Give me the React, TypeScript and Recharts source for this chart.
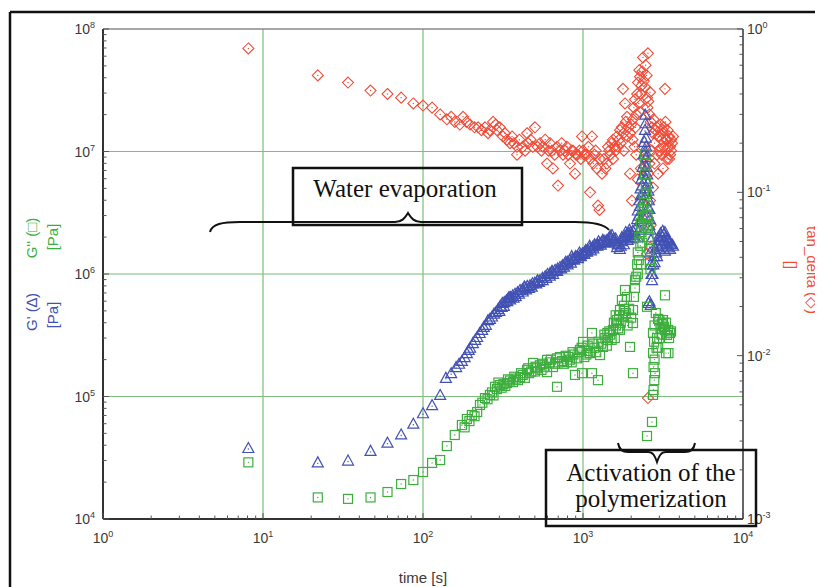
import React from 'react';
import { ScatterChart, Scatter, XAxis, YAxis, ReferenceLine } from 'recharts';

// ---------- axis ticks ----------
const xMajorTicks = [1, 10, 100, 1000, 10000];
const gMajorTicks = [1e4, 1e5, 1e6, 1e7, 1e8];
const tanMajorTicks = [0.001, 0.01, 0.1, 1];
const xGridValues = [10, 100, 1000];
const gGridValues = [1e5, 1e6, 1e7];

// ---------- data: [time s, value] ----------
const gPrimeRows: number[][] = [
  [8.1,3.8e4],[22,2.9e4],[34,3.0e4],[47,3.6e4],[60,4.2e4],[73,4.9e4],[87,6.0e4],[100,7.3e4],[114,8.5e4],[128,1.03e5],
  [139,1.42e5],[150,1.55e5],[161,1.74e5],[168,1.85e5],[175,1.95e5],[182,2.1e5],[188,2.26e5],[193,2.4e5],[197,2.5e5],[205,2.73e5],
  [212,2.9e5],[218,3.06e5],[226,3.3e5],[234,3.5e5],[240,3.7e5],[247,3.85e5],[255,4.2e5],[262,4.3e5],[270,4.5e5],[278,4.75e5],
  [286,4.9e5],[295,5.2e5],[304,5.5e5],[313,5.8e5],[322,5.9e5],[332,6.1e5],[342,6.35e5],[353,6.5e5],[364,6.7e5],[376,6.9e5],
  [390,7.1e5],[404,7.4e5],[418,7.5e5],[433,7.8e5],[449,8.0e5],[466,8.1e5],[483,8.4e5],[500,8.5e5],[519,8.8e5],[538,8.9e5],
  [558,9.3e5],[580,9.6e5],[600,1.0e6],[622,1.02e6],[645,1.05e6],[670,1.08e6],[694,1.11e6],[718,1.14e6],[744,1.18e6],[770,1.22e6],
  [799,1.26e6],[829,1.3e6],[858,1.33e6],[890,1.36e6],[922,1.4e6],[957,1.43e6],[992,1.48e6],[1030,1.53e6],[1068,1.58e6],[1107,1.63e6],
  [1148,1.67e6],[1190,1.71e6],[1233,1.75e6],[1277,1.79e6],[1322,1.83e6],[1370,1.87e6],[1413,1.9e6],[1460,1.98e6],[1518,2.08e6],[1560,1.95e6],
  [1600,1.8e6],[1632,1.66e6],[1680,1.75e6],[1730,1.85e6],[1780,1.95e6],[1830,2.05e6],[1880,2.1e6],[1930,2.15e6],[1980,2.2e6],[2030,2.1e6],
  [2080,2.0e6],[300,5.0e5],[320,5.5e5],[350,6.2e5],[380,6.6e5],[420,7.2e5],[460,7.7e5],[510,8.4e5],[560,8.9e5],[620,9.7e5],
  [690,1.06e6],[760,1.15e6],[840,1.24e6],[930,1.35e6],[1020,1.46e6],[1120,1.56e6],[1230,1.7e6],[1350,1.8e6],[1450,1.85e6],[1550,1.85e6],
  [1700,1.6e6],[1800,1.75e6],[1900,1.9e6],[2000,1.95e6],[1250,1.85e6],[1100,1.7e6],[950,1.5e6],[850,1.4e6],[1650,1.75e6],[1750,2.0e6],
  [1850,2.2e6],[1950,2.3e6],[2050,2.25e6],
  [310,5.4e5],[336,6.0e5],[368,6.4e5],[398,6.9e5],[440,7.5e5],[478,7.9e5],[530,8.6e5],[590,9.3e5],[650,1.0e6],[730,1.11e6],
  [800,1.2e6],[880,1.31e6],[970,1.4e6],[1060,1.52e6],[1160,1.62e6],[1290,1.74e6],[1400,1.83e6],[1500,1.95e6],[345,6.5e5],[430,7.9e5],
  [520,8.9e5],[640,1.06e6],[780,1.26e6],[900,1.4e6],[1040,1.57e6],[1180,1.75e6],[1330,1.9e6],[1480,2.05e6],[1600,1.95e6],[1720,1.7e6],
  [2120,2.0e6],[2150,2.4e6],[2180,2.8e6],[2200,3.3e6],[2230,3.0e6],[2250,4.0e6],[2270,3.6e6],[2290,5.0e6],[2300,4.4e6],[2320,6.0e6],
  [2340,5.3e6],[2360,7.5e6],[2380,6.5e6],[2400,9.5e6],[2410,8.0e6],[2420,1.2e7],[2440,1.5e7],[2450,2.0e7],[2460,1.7e7],[2470,1.3e7],
  [2480,1.1e7],[2490,9.0e6],[2500,7.5e6],[2520,6.5e6],[2540,5.5e6],[2560,4.8e6],[2580,4.0e6],[2600,3.4e6],[2620,2.8e6],[2640,2.3e6],
  [2660,1.9e6],[2350,3.0e6],[2400,4.0e6],[2450,5.0e6],[2500,4.5e6],[2550,3.5e6],[2300,2.7e6],[2250,2.3e6],[2600,2.5e6],[2450,1.0e7],
  [2430,7.0e6],[2480,6.0e6],[2370,4.5e6],[2520,3.0e6],[2200,2.0e6],
  [2620,1.5e6],[2650,1.2e6],[2680,1.0e6],[2700,8.9e5],[2560,5.8e5],[2650,5.6e5],[2600,6.0e5],[2720,1.0e6],[2750,1.2e6],[2780,1.4e6],
  [2800,1.25e6],[2830,1.6e6],[2860,1.5e6],[2900,1.8e6],[2930,1.7e6],[2960,2.0e6],[3000,1.9e6],[3050,2.15e6],[3100,2.05e6],[3150,2.25e6],
  [3200,2.1e6],[3250,2.2e6],[3300,2.0e6],[3350,1.95e6],[3400,1.9e6],[3450,1.85e6],[3500,1.8e6],[3550,1.75e6],[3600,1.75e6],[3650,1.7e6],
  [3000,1.6e6],[3100,1.75e6],[3200,1.85e6],[3300,1.7e6],[3400,1.65e6],[3500,1.6e6],[2900,1.4e6],[3250,1.55e6],
];

const gDoublePrimeRows: number[][] = [
  [8.1,2.9e4],[22,1.5e4],[34,1.46e4],[47,1.5e4],[60,1.66e4],[73,1.93e4],[87,2.08e4],[100,2.42e4],[114,2.87e4],[128,3.03e4],
  [141,3.94e4],[158,4.85e4],[175,5.85e4],[182,5.6e4],[188,6.55e4],[195,6.3e4],[202,7.06e4],[210,6.9e4],[218,7.47e4],[227,8.53e4],
  [235,8.9e4],[244,9.7e4],[253,9.5e4],[262,1.03e5],[270,1.08e5],[276,1.02e5],[282,1.2e5],[290,1.15e5],[302,1.24e5],[310,1.18e5],
  [318,1.26e5],[327,1.22e5],[335,1.29e5],[350,1.35e5],[365,1.31e5],[380,1.4e5],[392,1.36e5],[404,1.44e5],[420,1.5e5],[433,1.42e5],
  [447,1.65e5],[460,1.55e5],[475,1.6e5],[487,1.88e5],[500,1.6e5],[515,1.7e5],[538,1.8e5],[550,1.65e5],[575,1.75e5],[596,1.58e5],
  [596,1.99e5],[620,1.9e5],[649,1.74e5],[670,1.85e5],[688,1.2e5],[700,1.9e5],[718,2.1e5],[740,1.95e5],[760,1.85e5],[794,1.91e5],
  [810,2.1e5],[830,2.0e5],[850,1.9e5],[870,2.2e5],[891,1.5e5],[920,2.05e5],[940,2.3e5],[957,2.4e5],[986,1.55e5],[1000,2.79e5],
  [1020,2.1e5],[1050,2.2e5],[1080,2.35e5],[1107,2.26e5],[1137,1.55e5],[1137,3.3e5],[1160,2.7e5],[1180,2.5e5],[1210,2.3e5],[1241,1.36e5],
  [1277,2.18e5],[1300,2.7e5],[1334,2.54e5],[1360,3.2e5],[1380,3.0e5],[1410,2.6e5],[1433,2.89e5],[1460,3.4e5],[1480,3.2e5],[1510,2.9e5],
  [1540,3.49e5],[1560,4.0e5],[1580,3.0e5],[1610,3.8e5],[1632,4.21e5],[1660,3.6e5],[1680,4.6e5],[1703,5.08e5],[1720,4.0e5],[1750,6.14e5],
  [1780,4.5e5],[1800,5.5e5],[1830,7.4e5],[1850,4.8e5],[1880,6.5e5],[1900,3.8e5],[1940,5.2e5],[1967,2.54e5],[2000,4.4e5],[2054,3.98e5],
  [2054,5.08e5],[2054,1.55e5],[2080,6.5e5],[2113,7.69e5],[2113,8.9e5],
  [296,1.3e5],[340,1.38e5],[372,1.45e5],[410,1.55e5],[455,1.7e5],[505,1.75e5],[560,1.85e5],[630,2.0e5],[690,2.05e5],[780,2.15e5],
  [860,2.3e5],[980,2.5e5],[1070,2.6e5],[1250,2.8e5],[1420,3.3e5],[1600,4.6e5],[1700,3.5e5],[1820,5.0e5],
  [2150,9.5e5],[2180,1.2e6],[2200,1.5e6],[2230,1.3e6],[2250,2.0e6],[2280,1.7e6],[2300,2.6e6],[2320,2.2e6],[2350,3.4e6],[2370,2.9e6],
  [2400,4.5e6],[2420,3.8e6],[2440,6.5e6],[2450,9.5e6],[2460,8.0e6],[2470,5.5e6],[2490,4.5e6],[2510,3.6e6],[2530,3.0e6],[2550,2.4e6],
  [2570,2.0e6],[2600,1.6e6],[2620,1.3e6],[2640,1.1e6],[2200,1.0e6],[2400,2.5e6],[2500,2.5e6],[2350,1.8e6],[2450,3.0e6],[2300,1.2e6],
  [2512,5.4e5],[2512,4.76e4],[2700,6.2e4],[2740,1.03e5],[2760,1.13e5],[2790,1.36e5],[2760,1.74e5],[2740,2.26e5],[2738,3.3e5],[2780,2.8e5],
  [2800,3.8e5],[2850,4.8e5],[2800,2.0e5],[2820,1.55e5],[2880,2.5e5],[2900,3.0e5],[2950,4.3e5],[3000,4.2e5],[3050,3.6e5],[3100,3.9e5],
  [3150,4.0e5],[3162,4.21e5],[3200,3.7e5],[3254,3.49e5],[3254,6.7e5],[3300,4.0e5],[3350,3.18e5],[3400,3.5e5],[3450,3.0e5],[3500,3.3e5],
  [3550,3.4e5],[3300,2.26e5],[3420,2.26e5],[3100,3.2e5],[2950,2.5e5],[3000,3.0e5],
];

const tanDeltaRows: number[][] = [
  [8.1,0.76],[22,0.52],[34,0.47],[47,0.42],[60,0.40],[73,0.38],[87,0.35],[100,0.34],[114,0.33],[128,0.30],
  [141,0.28],[150,0.29],[158,0.27],[170,0.26],[178,0.29],[187,0.27],[197,0.26],[210,0.25],[221,0.25],[232,0.24],
  [244,0.25],[255,0.23],[262,0.24],[274,0.27],[285,0.26],[290,0.24],[302,0.25],[316,0.22],[325,0.23],[335,0.21],
  [350,0.20],[360,0.22],[370,0.20],[387,0.19],[387,0.17],[400,0.21],[420,0.19],[435,0.18],[447,0.23],[453,0.20],
  [470,0.21],[485,0.19],[501,0.25],[520,0.19],[538,0.20],[550,0.18],[562,0.19],[580,0.21],[596,0.15],[610,0.18],
  [622,0.20],[640,0.18],[649,0.14],[665,0.17],[688,0.19],[698,0.11],[720,0.18],[735,0.20],[750,0.17],[770,0.18],
  [794,0.19],[810,0.17],[829,0.15],[850,0.18],[866,0.18],[891,0.13],[905,0.17],[920,0.17],[950,0.18],[970,0.16],
  [986,0.22],[1000,0.18],[1020,0.17],[1050,0.17],[1080,0.19],[1107,0.16],[1107,0.10],[1137,0.22],[1160,0.15],[1180,0.17],
  [1200,0.18],[1223,0.14],[1241,0.083],[1268,0.078],[1280,0.16],[1315,0.13],[1350,0.16],[1380,0.14],[1413,0.15],[1433,0.19],
  [1460,0.18],[1480,0.17],[1510,0.20],[1540,0.16],[1540,0.21],[1570,0.19],[1600,0.18],[1630,0.22],[1655,0.19],[1680,0.21],
  [1703,0.24],[1720,0.20],[1750,0.25],[1778,0.43],[1790,0.23],[1800,0.18],[1830,0.35],[1850,0.27],[1884,0.29],[1900,0.22],
  [1930,0.25],[1967,0.23],[1967,0.13],[2000,0.26],[2024,0.089],[2040,0.21],[2054,0.28],[2080,0.33],[2113,0.37],[2130,0.25],
  [2150,0.30],[2180,0.40],[2208,0.47],[2230,0.35],[2250,0.56],[2270,0.51],[2270,0.31],[2300,0.40],[2320,0.45],[2350,0.55],
  [2371,0.67],[2400,0.48],[2441,0.44],[2460,0.60],[2500,0.52],[2547,0.71],[2512,0.38],[2530,0.33],[2560,0.36],[2600,0.30],
  [2624,0.41],[2650,0.27],[2700,0.25],[2738,0.23],[2760,0.28],[2800,0.20],[2850,0.24],[2901,0.25],[2950,0.22],[3000,0.22],
  [3050,0.26],[3100,0.21],[3150,0.24],[3162,0.23],[3200,0.25],[3254,0.43],[3280,0.27],[3300,0.21],[3350,0.21],[3380,0.24],
  [3400,0.19],[3450,0.22],[3499,0.19],[3550,0.21],[3600,0.20],[3650,0.22],[3162,0.14],[3350,0.16],[3500,0.17],[2901,0.17],
  [2950,0.13],[2738,0.107],[2624,0.089],[2547,0.070],[2512,0.042],[2624,0.046],[2650,0.063],[2547,0.0055],[2400,0.16],[2300,0.14],
  [2200,0.12],[2150,0.17],[2100,0.19],[2350,0.19],[2450,0.17],[2550,0.13],[2600,0.15],[2700,0.18],[2800,0.15],[3000,0.18],
  [3100,0.17],[3200,0.19],[3300,0.18],[3450,0.16],[3550,0.18],
];

const toPoints = (rows: number[][]) => rows.map(([t, v]) => ({ t, v }));
const gPrimeData = toPoints(gPrimeRows);
const gDoublePrimeData = toPoints(gDoublePrimeRows);
const tanDeltaData = toPoints(tanDeltaRows);

// ---------- style ----------
const BLUE = '#4252b3';
const GREEN = '#3dae3d';
const RED = '#f04c38';
const GRID = '#7dbd7d';
const TXT = '#3a3a3a';
const SANS = "'Liberation Sans', Arial, Helvetica, sans-serif";
const SERIF = "'Liberation Serif', 'Times New Roman', Times, serif";

const withMinor = (majors: number[]) => {
  const out: number[] = [];
  majors.forEach((m, i) => {
    out.push(m);
    if (i < majors.length - 1) for (let k = 2; k <= 9; k++) out.push(m * k);
  });
  return out;
};
const isMajor = (v: number, majors: number[]) => majors.some((m) => Math.abs(v / m - 1) < 1e-6);

const Pow = ({ exp }: { exp: number }) => (
  <>
    10<tspan dy={-6} fontSize={9}>{exp}</tspan>
  </>
);

const makeTick = (side: 'bottom' | 'left' | 'right', majors: number[]) => (props: any) => {
  const { x, y, payload } = props;
  const v = payload.value;
  const major = isMajor(v, majors);
  const exp = Math.round(Math.log10(v));
  const len = major ? 6 : 3.5;
  if (side === 'bottom') {
    return (
      <g>
        <line x1={x} x2={x} y1={y} y2={y - len} stroke="#555" strokeWidth={1} />
        {major && (
          <text x={x} y={y + 24} textAnchor="middle" fontFamily={SANS} fontSize={14} fill={TXT}>
            <Pow exp={exp} />
          </text>
        )}
      </g>
    );
  }
  if (side === 'left') {
    return (
      <g>
        <line x1={x} x2={x + len} y1={y} y2={y} stroke="#555" strokeWidth={1} />
        {major && (
          <text x={x - 8} y={y + 5} textAnchor="end" fontFamily={SANS} fontSize={14} fill={TXT}>
            <Pow exp={exp} />
          </text>
        )}
      </g>
    );
  }
  return (
    <g>
      <line x1={x} x2={x - len} y1={y} y2={y} stroke="#555" strokeWidth={1} />
      {major && (
        <text x={x + 4} y={y + 5} textAnchor="start" fontFamily={SANS} fontSize={14} fill={TXT}>
          <Pow exp={exp} />
        </text>
      )}
    </g>
  );
};

const Tri = (p: any) => {
  const { cx, cy } = p;
  if (cx == null || cy == null) return null;
  return (
    <g>
      <polygon points={`${cx},${cy - 5.5} ${cx - 5.5},${cy + 4.5} ${cx + 5.5},${cy + 4.5}`} fill="none" stroke={BLUE} strokeWidth={1.2} />
      <circle cx={cx} cy={cy + 1} r={0.7} fill={BLUE} />
    </g>
  );
};
const Sq = (p: any) => {
  const { cx, cy } = p;
  if (cx == null || cy == null) return null;
  return (
    <g>
      <rect x={cx - 4.5} y={cy - 4.5} width={9} height={9} fill="none" stroke={GREEN} strokeWidth={1.2} />
      <circle cx={cx} cy={cy} r={0.7} fill={GREEN} />
    </g>
  );
};
const Dia = (p: any) => {
  const { cx, cy } = p;
  if (cx == null || cy == null) return null;
  return (
    <g>
      <polygon points={`${cx},${cy - 5.5} ${cx + 5.5},${cy} ${cx},${cy + 5.5} ${cx - 5.5},${cy}`} fill="none" stroke={RED} strokeWidth={1.1} />
      <circle cx={cx} cy={cy} r={0.7} fill={RED} />
    </g>
  );
};

const W = 815;
const H = 579;

export default function App() {
  return (
    <div style={{ position: 'relative', width: W, height: H }}>
      <ScatterChart width={W} height={H} margin={{ top: 21, right: 0, bottom: 0, left: 0 }}>
        <XAxis
          type="number"
          dataKey="t"
          scale="log"
          domain={[1, 10000]}
          allowDataOverflow
          ticks={withMinor(xMajorTicks)}
          interval={0}
          tickSize={0}
          tickMargin={0}
          tickLine={false}
          tick={makeTick('bottom', xMajorTicks)}
          axisLine={{ stroke: '#333', strokeWidth: 2 }}
          height={68}
        />
        <YAxis
          yAxisId="left"
          type="number"
          dataKey="v"
          scale="log"
          domain={[1e4, 1e8]}
          allowDataOverflow
          ticks={withMinor(gMajorTicks)}
          interval={0}
          tickSize={0}
          tickMargin={0}
          tickLine={false}
          tick={makeTick('left', gMajorTicks)}
          axisLine={{ stroke: '#333', strokeWidth: 2 }}
          width={95}
        />
        <YAxis
          yAxisId="right"
          orientation="right"
          type="number"
          dataKey="v"
          scale="log"
          domain={[0.001, 1]}
          allowDataOverflow
          ticks={withMinor(tanMajorTicks)}
          interval={0}
          tickSize={0}
          tickMargin={0}
          tickLine={false}
          tick={makeTick('right', tanMajorTicks)}
          axisLine={{ stroke: '#333', strokeWidth: 1.5 }}
          width={80}
        />
        {xGridValues.map((v) => (
          <ReferenceLine key={'gx' + v} yAxisId="left" x={v} stroke={GRID} strokeWidth={1.2} />
        ))}
        {gGridValues.map((v) => (
          <ReferenceLine key={'gy' + v} yAxisId="left" y={v} stroke={GRID} strokeWidth={1.2} />
        ))}
        <ReferenceLine yAxisId="left" y={1e8} stroke="#8a8a8a" strokeWidth={1.5} />
        <Scatter yAxisId="right" data={tanDeltaData} shape={Dia} isAnimationActive={false} />
        <Scatter yAxisId="left" data={gPrimeData} shape={Tri} isAnimationActive={false} />
        <Scatter yAxisId="left" data={gDoublePrimeData} shape={Sq} isAnimationActive={false} />
      </ScatterChart>

      <svg width={W} height={H} style={{ position: 'absolute', left: 0, top: 0, pointerEvents: 'none' }}>
        {/* outer frame */}
        <line x1={2} y1={4} x2={2} y2={H} stroke="#111" strokeWidth={2.5} />
        <line x1={2} y1={4} x2={W} y2={4} stroke="#111" strokeWidth={2.5} />

        {/* axis titles */}
        <g fontFamily={SANS} fontSize={15}>
          <text x={23} y={230} transform="rotate(-90 23 230)" textAnchor="middle" dominantBaseline="central" fill={GREEN}>G'' (□)</text>
          <text x={44} y={229} transform="rotate(-90 44 229)" textAnchor="middle" dominantBaseline="central" fill={GREEN}>[Pa]</text>
          <text x={23} y={304} transform="rotate(-90 23 304)" textAnchor="middle" dominantBaseline="central" fill={BLUE}>G' (∆)</text>
          <text x={44} y={307} transform="rotate(-90 44 307)" textAnchor="middle" dominantBaseline="central" fill={BLUE}>[Pa]</text>
          <text x={804} y={262} transform="rotate(90 804 262)" textAnchor="middle" dominantBaseline="central" fill={RED}>tan_delta (◇)</text>
          <text x={783} y={257} transform="rotate(90 783 257)" textAnchor="middle" dominantBaseline="central" fill={RED}>[]</text>
          <text x={415} y={569} textAnchor="middle" dominantBaseline="central" fill={TXT}>time [s]</text>
        </g>

        {/* Water evaporation annotation */}
        <rect x={285} y={160} width={229} height={57} fill="none" stroke="#111" strokeWidth={2.5} />
        <text x={397} y={189} textAnchor="middle" fontFamily={SERIF} fontSize={25} fill="#111">Water evaporation</text>
        <path
          d="M202,224 C204,216 214,214 232,214 L387,214 C394,214 397,210 400,205 C403,210 406,214 413,214 L567,214 C587,214 597,217 601,222"
          fill="none"
          stroke="#111"
          strokeWidth={2}
        />

        {/* Activation annotation */}
        <rect x={538} y={442} width={210} height={76} fill="none" stroke="#111" strokeWidth={2.5} />
        <text x={643} y={473} textAnchor="middle" fontFamily={SERIF} fontSize={25} fill="#111">Activation of the</text>
        <text x={643} y={499} textAnchor="middle" fontFamily={SERIF} fontSize={25} fill="#111">polymerization</text>
        <path
          d="M610,435 C611,441 614,444 620,444 L640,444 C645,444 647,448 649,454 C651,448 653,444 658,444 L677,444 C683,444 686,441 687,435"
          fill="none"
          stroke="#111"
          strokeWidth={2}
        />
      </svg>
    </div>
  );
}
